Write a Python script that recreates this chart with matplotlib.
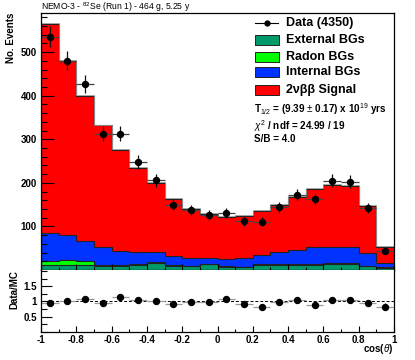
import numpy as np
import matplotlib
matplotlib.use("Agg")
import matplotlib.pyplot as plt
from matplotlib.patches import Rectangle
from matplotlib.lines import Line2D
from matplotlib.ticker import MultipleLocator

plt.rcParams['font.family'] = ['Liberation Sans', 'DejaVu Sans']
plt.rcParams['mathtext.fontset'] = 'custom'
plt.rcParams['mathtext.rm'] = 'Liberation Sans'
plt.rcParams['mathtext.it'] = 'Liberation Sans:italic'
plt.rcParams['mathtext.bf'] = 'Liberation Sans:bold'

# cos(theta) binning, 20 bins
bin_edges = np.linspace(-1, 1, 21)

data = np.array([536, 480, 428, 313, 313, 248, 206, 150, 137, 127,
                 131, 112, 111, 144, 173, 162, 205, 203, 142, 44])
external_bg = np.array([12, 12, 11, 10, 10, 11, 16, 10, 9, 13,
                        8, 7, 12, 11, 11, 12, 13, 13, 9, 5])
radon_bg = np.array([9, 12, 10, 2, 1, 2, 2, 1, 1, 1,
                     1, 1, 2, 2, 2, 2, 2, 2, 1, 1])
internal_bg = np.array([64, 57, 46, 41, 33, 29, 23, 20, 17, 14,
                        16, 19, 20, 28, 33, 39, 37, 38, 30, 10])
signal = np.array([480, 399, 333, 279, 232, 193, 159, 132, 113, 100,
                   97, 97, 101, 108, 121, 133, 144, 140, 108, 37])

legend_labels = ["External BGs", "Radon BGs", "Internal BGs", "2\u03bd\u03b2\u03b2 Signal"]
colors = ["#00996a", "#00ff00", "#0033ff", "#ff0000"]

W, H = 415, 360
fig = plt.figure(figsize=(W / 100, H / 100), dpi=100)


def fx(x):
    return x / W


def fy(y):
    return 1 - y / H


ax = fig.add_axes([fx(41), fy(270), fx(394) - fx(41), fy(13) - fy(270)])
axr = fig.add_axes([fx(41), fy(332), fx(394) - fx(41), fy(270) - fy(332)])

centers = 0.5 * (bin_edges[:-1] + bin_edges[1:])
half = 0.5 * np.diff(bin_edges)

# stacked MC, drawn from top component down so each covers from zero
components = [external_bg, radon_bg, internal_bg, signal]
cum = np.cumsum(components, axis=0)
for i in range(3, -1, -1):
    ax.stairs(cum[i], bin_edges, baseline=0, fill=True, color=colors[i], zorder=1 + (3 - i) * 0.1)
    ax.stairs(cum[i], bin_edges, baseline=0, fill=False, color="#222222", lw=0.8, zorder=1.5)
mc_total = cum[-1]
ax.stairs(mc_total + 2, bin_edges, baseline=None, color="#999999", lw=0.6, zorder=1.6)

err = np.sqrt(data)
ax.errorbar(centers, data, xerr=half, fmt="none", ecolor="#444444", elinewidth=0.9, zorder=3)
ax.errorbar(centers, data, yerr=err, fmt="o", color="black", ms=4.3, ecolor="#111111",
            elinewidth=0.9, capsize=0, zorder=4)

ax.set_xlim(-1, 1)
ax.set_ylim(0, 590)
ax.yaxis.set_major_locator(MultipleLocator(100))
ax.yaxis.set_minor_locator(MultipleLocator(20))
ax.xaxis.set_major_locator(MultipleLocator(0.2))
ax.xaxis.set_minor_locator(MultipleLocator(0.1))
ax.set_yticks([100, 200, 300, 400, 500])
ax.tick_params(axis="y", which="major", direction="in", length=9, width=0.8, labelsize=7, pad=3)
ax.tick_params(axis="y", which="minor", direction="in", length=4.5, width=0.8)
ax.tick_params(axis="x", which="major", direction="in", length=4, width=0.8, labelbottom=False)
ax.tick_params(axis="x", which="minor", direction="in", length=2, width=0.8)
for lab in ax.get_yticklabels():
    lab.set_fontweight("bold")
for s in ax.spines.values():
    s.set_linewidth(0.9)
    s.set_zorder(5)

# ratio panel
ratio = data / mc_total
rerr = np.sqrt(data) / mc_total
axr.axhline(1, color="black", ls=(0, (3, 2)), lw=0.7, zorder=1)
axr.errorbar(centers, ratio, xerr=half, fmt="none", ecolor="#999999", elinewidth=0.9, zorder=2)
axr.errorbar(centers, ratio, yerr=rerr, fmt="o", color="black", ms=4.3, ecolor="#111111",
             elinewidth=0.9, capsize=0, zorder=3)
axr.set_xlim(-1, 1)
axr.set_ylim(0, 2.03)
axr.set_yticks([0.5, 1, 1.5])
axr.set_yticklabels(["0.5", "1", "1.5"])
axr.yaxis.set_minor_locator(MultipleLocator(0.25))
axr.xaxis.set_major_locator(MultipleLocator(0.2))
axr.xaxis.set_minor_locator(MultipleLocator(0.1))
axr.set_xticks(np.round(np.arange(-1, 1.01, 0.2), 1))
axr.set_xticklabels(["-1", "-0.8", "-0.6", "-0.4", "-0.2", "0", "0.2", "0.4", "0.6", "0.8", "1"])
axr.tick_params(axis="y", which="major", direction="in", length=8, width=0.8, labelsize=7, pad=3)
axr.tick_params(axis="y", which="minor", direction="in", length=4, width=0.8)
axr.tick_params(axis="x", which="major", direction="in", length=4, width=0.8, labelsize=7, pad=2)
axr.tick_params(axis="x", which="minor", direction="in", length=2, width=0.8)
for lab in axr.get_yticklabels() + axr.get_xticklabels():
    lab.set_fontweight("bold")
for s in axr.spines.values():
    s.set_linewidth(0.9)
axr.spines["top"].set_visible(False)

# titles and axis labels
fig.text(fx(41), fy(7), r"NEMO-3 - $^{82}$Se (Run 1) - 464 g, 5.25 y", fontsize=6.2,
         ha="left", va="center")
fig.text(fx(10.5), fy(13), "No. Events", rotation=90, fontsize=7, fontweight="bold",
         ha="center", va="top")
fig.text(fx(14), fy(270), "Data/MC", rotation=90, fontsize=7, fontweight="bold",
         ha="center", va="top")
fig.text(fx(393), fy(349.5), r"cos($\theta$)", fontsize=7, fontweight="bold",
         ha="right", va="center")

# legend
fig.lines.append(Line2D([fx(255), fx(278)], [fy(23), fy(23)], color="black", lw=0.8,
                        transform=fig.transFigure))
fig.lines.append(Line2D([fx(266.5)], [fy(23)], marker="o", ms=3.5, color="black",
                        transform=fig.transFigure))
fig.text(fx(286), fy(23), "Data (4350)", fontsize=9, fontweight="bold", ha="left", va="center")
box_y = [40, 57, 72, 89.5]
for lab, col, yc in zip(legend_labels, colors, box_y):
    fig.patches.append(Rectangle((fx(254.5), fy(yc + 5)), fx(279) - fx(254.5), fy(yc - 5) - fy(yc + 5),
                                 facecolor=col, edgecolor="#222222", lw=0.7,
                                 transform=fig.transFigure))
    fig.text(fx(286), fy(yc), lab, fontsize=9, fontweight="bold", ha="left", va="center")

fig.text(fx(254), fy(109), r"T$_{1/2}$ = (9.39 $\pm$ 0.17) x 10$^{19}$ yrs", fontsize=7.1,
         fontweight="bold", ha="left", va="center")
fig.text(fx(254), fy(126.5), r"$\chi^2$ / ndf = 24.99 / 19", fontsize=7.1,
         fontweight="bold", ha="left", va="center")
fig.text(fx(254), fy(139.5), "S/B = 4.0", fontsize=7.1,
         fontweight="bold", ha="left", va="center")

fig.savefig("out.png", dpi=100)
